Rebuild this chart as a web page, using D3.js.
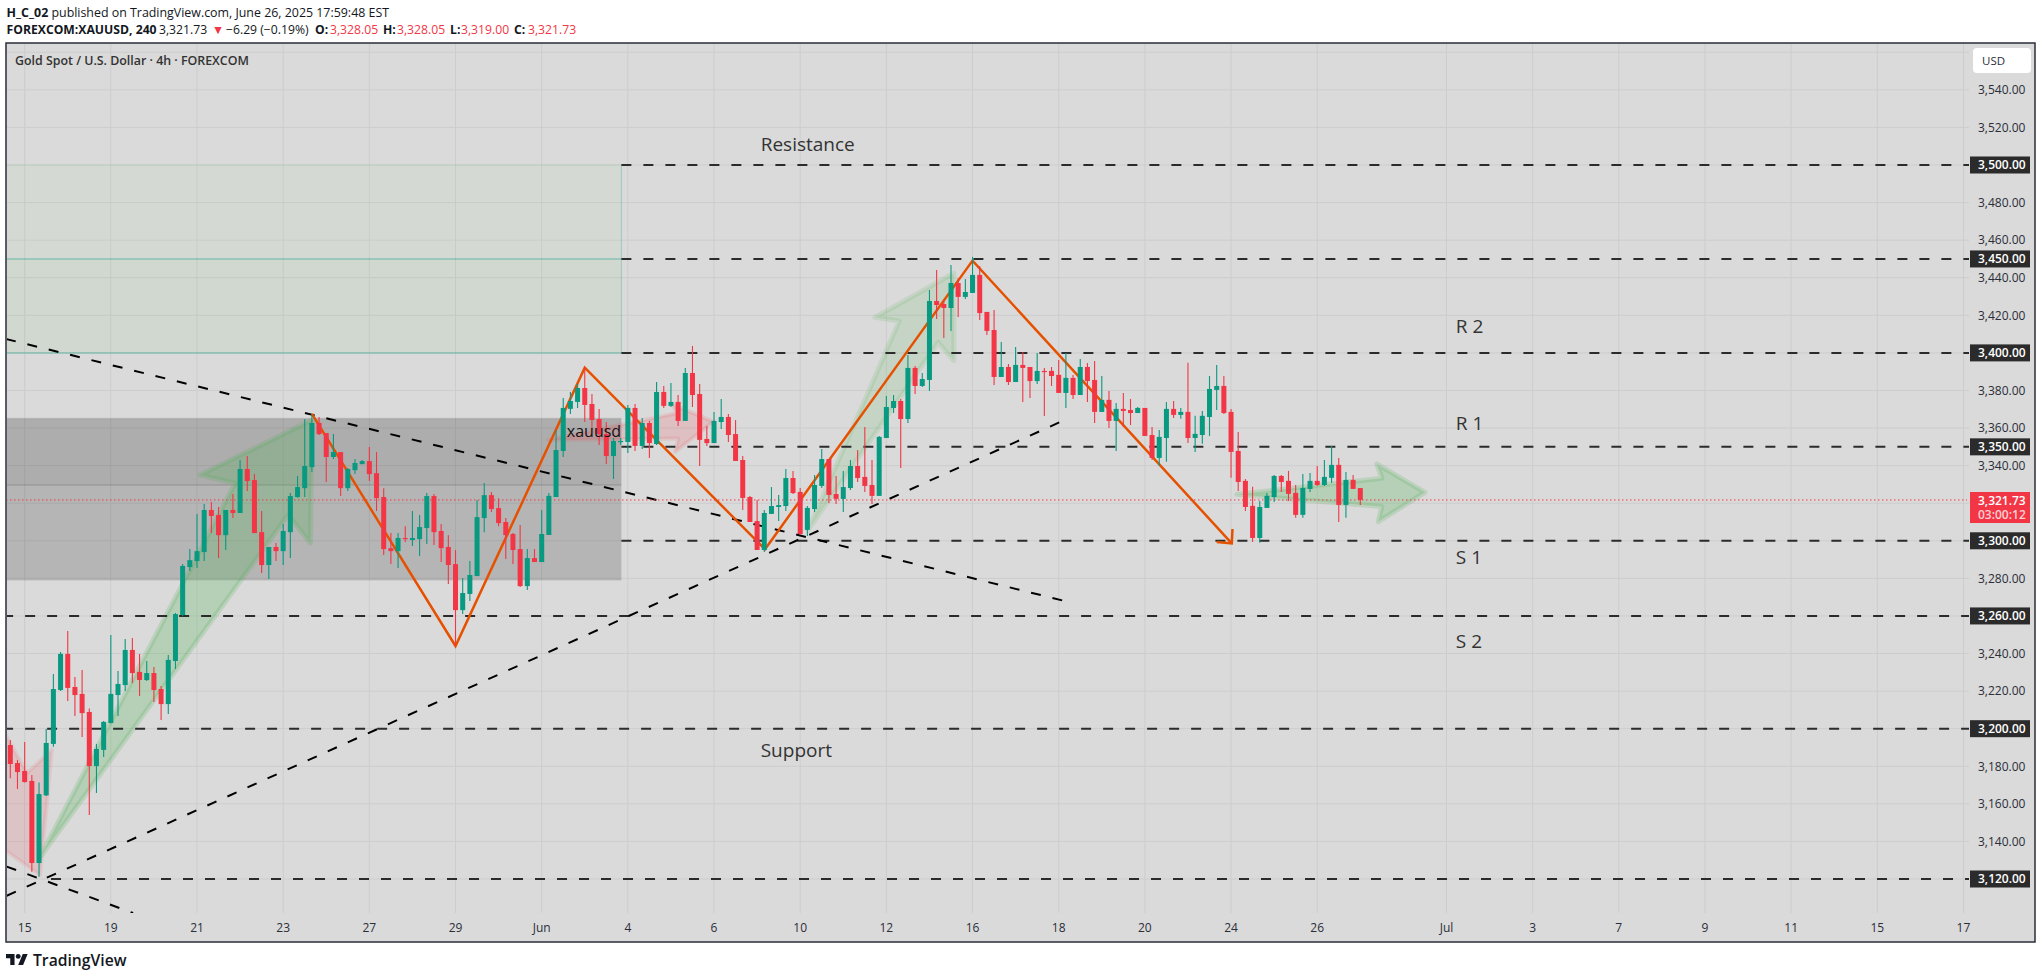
<!DOCTYPE html>
<html><head><meta charset="utf-8">
<script src="https://cdn.jsdelivr.net/npm/d3@7"></script>
<style>html,body{margin:0;padding:0;background:#fff}svg{display:block}text{font-family:"Open Sans",sans-serif}</style>
</head><body><svg id="c" width="2042" height="979"></svg>
<script>
const opens=[3191.3,3181.7,3177.5,3172.2,3128.5,3164.5,3191.9,3220.6,3239.8,3222.2,3218.5,3208.9,3180.1,3188.7,3203,3217.9,3223.2,3241.9,3230.2,3225.9,3229.6,3221.1,3213.1,3236,3260.5,3286,3289.2,3294,3316.4,3313.7,3303,3316.4,3314.8,3338.2,3332.3,3304.6,3287.1,3296.7,3294.5,3304.6,3323.3,3328,3339.2,3362.7,3357.3,3344.6,3347.2,3328,3337.6,3340.8,3342.4,3336,3323.3,3296.1,3294.5,3301.5,3300.4,3300.9,3306.8,3323.8,3305.2,3296.7,3287.6,3263.1,3271.7,3281.2,3312.1,3324.3,3317.4,3310,3303.6,3295.6,3275.9,3290.8,3288.7,3303.1,3323.3,3347.8,3370.2,3373.9,3381.3,3372.8,3364.8,3356.8,3345.1,3352.8,3352.6,3370.7,3350.5,3362.7,3351.5,3379.2,3371.8,3373.9,3363.8,3389.3,3378.1,3354.2,3352,3363.2,3365.9,3356.8,3343,3323.3,3310.5,3295.1,3314.3,3318,3318.5,3333.4,3326,3305.8,3316.9,3329.2,3343.5,3324.9,3322.3,3328.1,3339.8,3334,3329.7,3323.9,3354.7,3370.7,3374.4,3364.8,3392,3382.4,3385.6,3427.6,3426,3423.9,3437.2,3429.8,3431.9,3441.5,3421.8,3412.2,3387.2,3392.5,3384.5,3393.6,3392.5,3385,3390.4,3390.4,3388.3,3378.7,3386.7,3377.6,3392.5,3385.6,3368.6,3375,3363.8,3370.2,3369.6,3368,3370.7,3356.3,3344.1,3354.7,3370.2,3367,3368.6,3354.7,3356.3,3365.9,3380.3,3382.4,3368.6,3347.8,3331.9,3318.6,3301.5,3317.5,3323.3,3334.5,3331.9,3325.5,3313.8,3327.6,3331.9,3329.7,3333.5,3340.4,3319.1,3332.4,3328.05];
const highs=[3194,3183.3,3192.9,3175.4,3171.4,3199.8,3229.1,3240.8,3252,3227.5,3231.2,3210.8,3191.9,3204.1,3249.9,3230.7,3247.7,3248.3,3239.8,3236,3232.8,3222.7,3239.2,3261.6,3287.6,3295.6,3314.2,3319.6,3320.6,3318,3316.4,3324.9,3343,3345.1,3335.5,3315.8,3296.7,3298.8,3308.9,3325.4,3334.5,3364.8,3366.9,3365.9,3357.3,3356.8,3347.2,3338.7,3343.5,3343,3349.9,3347.2,3328,3304.1,3304.1,3307.8,3315.8,3313.7,3325.4,3324.9,3308.9,3303,3295.1,3280.2,3289.2,3321.7,3330.7,3325.9,3322.7,3312.1,3304.1,3308.4,3295.6,3295.6,3316.4,3325.5,3359,3376,3379.2,3383.5,3392.5,3378.1,3370.2,3363.2,3354.7,3354.7,3372.3,3372.8,3365.4,3363.8,3384.5,3382.4,3384,3377.6,3392,3403.7,3383.5,3361.1,3368.6,3375.5,3367.5,3364.3,3345.1,3323.9,3321.7,3316.4,3328.6,3324.4,3338.2,3337.2,3328.1,3318.5,3335,3348.9,3343.5,3334.5,3337.2,3343,3348.3,3360.6,3343,3355.8,3377.1,3377.6,3375.5,3398.9,3393,3389.3,3433.5,3444.1,3428.2,3446.8,3439.9,3439.3,3451.1,3446.3,3421.8,3422.8,3405.8,3394.1,3403.2,3400.5,3392.5,3400,3392,3392.5,3396.2,3400,3388.3,3396.8,3394.6,3395.7,3387.7,3379.7,3373.3,3378.7,3375.5,3371.2,3370.7,3360.6,3359,3373.9,3374.4,3370.7,3394.7,3366.5,3369.1,3387.7,3393.6,3387.7,3370.2,3357.9,3332.9,3328.7,3321.2,3325.5,3335,3335,3337.2,3329.7,3335.6,3336.1,3339.8,3343,3350.5,3344.1,3336.6,3335,3328.05];
const lows=[3173.6,3167.9,3171.4,3123.9,3121.2,3164.2,3190.4,3220.1,3214.7,3206.7,3195.6,3154.1,3165.8,3184.9,3202.9,3206.7,3220.1,3224.3,3217.4,3225.4,3214.2,3204.6,3207.8,3231.8,3259.9,3283.9,3285.5,3289.2,3304.1,3290.8,3295.1,3312.1,3314.8,3326.5,3304.1,3282.8,3279.6,3289.2,3287.1,3290.8,3322.9,3323.3,3336.6,3356.3,3331.3,3343.5,3323.8,3326.5,3335.5,3340.8,3331.8,3315.8,3292.4,3287.6,3285.5,3299.3,3297.2,3291.9,3298.3,3297.7,3288.7,3277,3244,3261,3267.9,3281.2,3304.6,3315.3,3307.8,3290.3,3287.6,3275.4,3273.8,3288.7,3288.7,3303.1,3323.3,3344.6,3367.5,3370.7,3363.2,3359,3351,3340.9,3332.9,3351,3346.7,3347.8,3348.9,3344.1,3351,3370.7,3371.2,3361.1,3363.8,3371.2,3339.8,3350.5,3352,3359.5,3352.6,3342.5,3316.4,3310,3295.1,3294,3314.3,3310.5,3315.9,3324.9,3303.1,3302.6,3315.3,3328.1,3320.1,3319.6,3315.3,3327,3331.3,3326,3319.6,3323.9,3354.7,3368,3338.8,3362.7,3378.1,3381.9,3379.7,3418.1,3407.9,3411.7,3419.1,3428.7,3431.9,3417.5,3409.5,3382.9,3387.2,3382.9,3384.5,3373.9,3376,3383.5,3366.4,3382.4,3378.7,3370.7,3375.5,3377.6,3373.9,3362.7,3368.6,3360,3347.8,3360.6,3361.6,3368,3355.8,3343,3339.8,3342,3365.4,3364.9,3352.1,3347.3,3351.6,3355.8,3369.6,3367.5,3333.5,3326.5,3315.9,3299.4,3298.9,3317.5,3320.7,3326,3321.2,3312.2,3312.2,3326,3329.2,3329.2,3330.8,3310,3312.2,3327.6,3319];
const closes=[3181.2,3176.9,3171.6,3128.5,3165.2,3192.4,3221.1,3239.8,3221.7,3217.9,3208.3,3180.1,3189.2,3203.6,3218.5,3223.8,3241.9,3229.6,3225.9,3229.6,3220.6,3213.1,3236.6,3261,3286.6,3289.7,3294.5,3316.4,3313.2,3303,3316.4,3314.8,3338.2,3331.8,3304.1,3287.1,3296.7,3294.5,3305.2,3323.8,3328.6,3339.8,3362.7,3356.8,3344.6,3347.2,3328,3338.2,3341.4,3342.4,3335.5,3322.7,3295.6,3294.5,3301.5,3300.9,3301.5,3307.3,3323.8,3304.6,3296.1,3287.1,3263.1,3272.2,3281.8,3312.6,3324.3,3316.9,3309.4,3303,3295.1,3275.9,3290.8,3288.7,3303.6,3323.9,3348.3,3370.7,3374.4,3381.3,3372.3,3364.3,3356.8,3345.1,3353.1,3353.1,3370.7,3350.5,3362.7,3352,3379.2,3371.8,3373.9,3363.8,3389.3,3377.6,3353.7,3352,3363.8,3365.9,3356.3,3342.5,3322.8,3310,3295.1,3314.8,3318.5,3319,3333.4,3325.4,3303.6,3317.5,3329.7,3343.5,3324.4,3322.3,3328.6,3339.8,3333.4,3329.2,3323.9,3355.3,3371.2,3374.4,3364.8,3392,3382.4,3386.1,3427.6,3425.5,3423.9,3437.2,3429.8,3432.4,3441.5,3421.2,3411.7,3387.2,3392.5,3384.5,3393.6,3392,3385,3390.4,3389.8,3387.7,3378.7,3386.7,3377.6,3392.5,3385,3368.6,3375,3363.8,3370.2,3369.1,3368,3370.7,3355.8,3344.1,3355.3,3370.2,3367,3368.6,3354.7,3356.9,3366.5,3380.8,3382.4,3368,3347.3,3331.3,3318,3301.5,3318,3323.9,3334.5,3331.3,3325,3313.8,3328.1,3331.9,3329.7,3334,3340.4,3319.1,3332.4,3327.6,3321.73];

const priceLabels=[3540,3520,3480,3460,3440,3420,3380,3360,3340,3280,3240,3220,3180,3160,3140];
const gridPrices=[3560,3540,3520,3500,3480,3460,3440,3420,3400,3380,3360,3340,3320,3300,3280,3260,3240,3220,3200,3180,3160,3140,3120];
const levelPrices=[3500,3450,3400,3350,3300,3260,3200,3120];
const levelStartBars=[86.1,86.1,86.1,86.1,86.1,0,0,6.67];
const lastPrice=3321.73, countdown="03:00:12";
const dateLabels=["15","19","21","23","27","29","Jun","4","6","10","12","16","18","20","24","26","Jul","3","7","9","11","15","17"];
const dateBars=[3,15,27,39,51,63,75,87,99,111,123,135,147,159,171,183,201,213,225,237,249,261,273];
const zigzag=[[43,3367.5],[63,3244],[81,3392.1],[106.1,3295.5],[135,3449.1],[171.1,3298.6]];
const zigzagHeadA=[[169,3299.3],[171.1,3298.6],[171.2,3306.3]];
const trendA=[[0.4,3407.4],[147.9,3267.9]];
const trendB=[[0.5,3111.1],[147.2,3363.2]];
const trendC=[[0.5,3126.6],[18.1,3101.9]];
const arrowGreenBig=[[5.07,3131.2],[32.3,3330.6],[27.4,3335],[43,3364.3],[42.8,3298.7],[39.7,3313.7]];
const arrowGreenSmall=[[112.1,3305.7],[124.8,3417],[121.4,3418.9],[132.4,3442.4],[132.4,3395.9],[130.2,3405.6]];
const arrowGreenFlat=[[171.8,3324.7],[192,3333.3],[191.3,3340.9],[198,3325.8],[191.5,3310.2],[192,3318.2]];
const arrowPinkDown=[[-1.8,3211],[3.33,3176.4],[6.8,3188.7],[5.14,3122.1],[-1.13,3139.2]];
const arrowPinkFlat=[[75.9,3353.6],[93.8,3367.9],[93.3,3372.3],[98.9,3363.4],[93.6,3347.4],[94,3354.5]];
const noteLabels=["Resistance","Support","R 2","R 1","S 1","S 2"];
const noteBars=[105.5,105.5,202.3,202.3,202.3,202.3];
const notePrices=[3507.5,3185,3410.5,3358.7,3287.7,3242.9];

const W=2042,H=979,L=6,T=43,R=2035,B=942,PB=913,PR=1969;
const x=d3.scaleLinear().domain([1,189]).range([10.3,1360.3]);
const y=d3.scaleLinear().domain([3500,3120]).range([165,879]);
const svg=d3.select("#c");
const dateFmt=d3.format(",.2f");
const green="#089981",red="#f23645",ink="#2a2e39";
const defs=svg.append("defs");
defs.append("clipPath").attr("id","pane").append("rect").attr("x",L+1).attr("y",T+1).attr("width",PR-L-1).attr("height",PB-T-1);

svg.append("rect").attr("x",L).attr("y",T).attr("width",R-L).attr("height",B-T).attr("fill","#dadada").attr("stroke",ink).attr("stroke-width",1.5);

const g=svg.append("g").attr("clip-path","url(#pane)");
g.selectAll(".gx").data(dateBars).join("line").attr("x1",d=>x(d)).attr("x2",d=>x(d)).attr("y1",T).attr("y2",PB).attr("stroke","#cdcdcd");
g.selectAll(".gy").data(gridPrices).join("line").attr("x1",L).attr("x2",PR).attr("y1",d=>y(d)).attr("y2",d=>y(d)).attr("stroke","#cdcdcd");

const zoneRight=x(86.1);
function zone(top,bot,fill){g.append("rect").attr("x",L).attr("width",zoneRight-L).attr("y",y(top)).attr("height",y(bot)-y(top)).attr("fill",fill);}
zone(3500,3450,"rgba(118,218,118,0.05)");
zone(3450,3400,"rgba(68,185,34,0.06)");
zone(3365.2,3329.7,"rgba(0,0,0,0.205)");
zone(3329.7,3279,"rgba(0,0,0,0.17)");
function rule(p,col,w){g.append("line").attr("x1",L).attr("x2",zoneRight).attr("y1",y(p)).attr("y2",y(p)).attr("stroke",col).attr("stroke-width",w);}
rule(3500,"rgba(76,175,80,0.15)",1);
rule(3450,"rgba(8,153,129,0.28)",2);
rule(3400,"rgba(8,153,129,0.28)",2);
rule(3329.7,"rgba(0,0,0,0.09)",2);
rule(3365.2,"rgba(0,0,0,0.03)",2);
rule(3279,"rgba(0,0,0,0.03)",1);
g.append("line").attr("x1",zoneRight).attr("x2",zoneRight).attr("y1",y(3500)).attr("y2",y(3400)).attr("stroke","rgba(8,153,129,0.28)");

const polyLine=d3.line().x(d=>x(d[0])).y(d=>y(d[1]));
function arrow(pts,fill,stroke,w){g.append("path").attr("d",polyLine(pts)+"Z").attr("fill",fill).attr("stroke",stroke).attr("stroke-width",w).attr("stroke-linejoin","round");}
arrow(arrowPinkDown,"rgba(242,54,69,0.13)","rgba(242,54,69,0.1)",4);
arrow(arrowGreenBig,"rgba(76,175,80,0.25)","rgba(76,175,80,0.2)",5);
arrow(arrowGreenSmall,"rgba(76,175,80,0.14)","rgba(76,175,80,0.14)",5);
arrow(arrowGreenFlat,"rgba(76,175,80,0.25)","rgba(76,175,80,0.2)",5);
arrow(arrowPinkFlat,"rgba(242,54,69,0.16)","rgba(242,54,69,0.12)",4);

levelPrices.forEach((p,i)=>{g.append("line").attr("x1",x(levelStartBars[i])).attr("x2",PR).attr("y1",y(p)).attr("y2",y(p)).attr("stroke","#2b2b2b").attr("stroke-width",2).attr("stroke-dasharray","10 12");});

[trendA,trendB,trendC].forEach(t=>{g.append("path").attr("d",polyLine(t)).attr("fill","none").attr("stroke","#000").attr("stroke-width",2).attr("stroke-dasharray","10 12");});

g.selectAll(".note").data(noteLabels).join("text").attr("x",(d,i)=>x(noteBars[i])).attr("y",(d,i)=>y(notePrices[i])).attr("font-size",19).attr("fill","#333").text(d=>d);

g.append("path").attr("d",polyLine(zigzag)).attr("fill","none").attr("stroke","#e65100").attr("stroke-width",2.5).attr("stroke-linejoin","miter");
g.append("path").attr("d",polyLine(zigzagHeadA)).attr("fill","none").attr("stroke","#e65100").attr("stroke-width",2.5);

g.append("line").attr("x1",L).attr("x2",PR-2).attr("y1",y(lastPrice)).attr("y2",y(lastPrice)).attr("stroke",red).attr("stroke-width",1).attr("stroke-dasharray","1.5 2.5");

const bars=opens.map((o,i)=>({i:i+1,o,h:highs[i],l:lows[i],c:closes[i]}));
const cg=g.append("g");
cg.selectAll(".w").data(bars).join("line").attr("x1",d=>x(d.i)).attr("x2",d=>x(d.i)).attr("y1",d=>y(d.h)).attr("y2",d=>y(d.l)).attr("stroke",d=>d.c>=d.o?green:red).attr("stroke-width",1.1);
cg.selectAll(".b").data(bars).join("rect").attr("x",d=>x(d.i)-2.5).attr("width",5).attr("y",d=>y(Math.max(d.o,d.c))).attr("height",d=>Math.max(1.2,y(Math.min(d.o,d.c))-y(Math.max(d.o,d.c)))).attr("fill",d=>d.c>=d.o?green:red);

g.append("text").attr("x",x(78.5)).attr("y",y(3355)).attr("font-size",16).attr("fill","#111").text("xauusd");

const ax=svg.append("g");
ax.selectAll(".pl").data(priceLabels).join("text").attr("x",1978).attr("y",d=>y(d)+4.3).attr("font-size",12).attr("fill",ink).text(dateFmt);
levelPrices.forEach(p=>{
  ax.append("rect").attr("x",1970).attr("y",y(p)-8.5).attr("width",60).attr("height",17).attr("fill","#2b2b2b");
  ax.append("text").attr("x",1978).attr("y",y(p)+4.3).attr("font-size",12).attr("fill","#fff").attr("font-weight",600).text(dateFmt(p));
});
ax.append("rect").attr("x",1970).attr("y",492).attr("width",60).attr("height",31).attr("fill",red);
ax.append("text").attr("x",1978).attr("y",y(lastPrice)+5).attr("font-size",12).attr("fill","#fff").attr("font-weight",600).text(dateFmt(lastPrice));
ax.append("text").attr("x",1978).attr("y",y(lastPrice)+19).attr("font-size",12).attr("fill","#ffd0d4").attr("font-weight",600).text(countdown);
ax.append("rect").attr("x",1973).attr("y",48).attr("width",58).attr("height",25).attr("rx",4).attr("fill","#fff");
ax.append("text").attr("x",1982).attr("y",65).attr("font-size",11.5).attr("fill",ink).text("USD");

svg.selectAll(".dl").data(dateLabels).join("text").attr("x",(d,i)=>x(dateBars[i])).attr("y",932).attr("text-anchor","middle").attr("font-size",12).attr("fill",ink).text(d=>d);

const h1=svg.append("text").attr("x",6.5).attr("y",17).attr("font-size",12.4).attr("fill","#131722");
h1.append("tspan").attr("font-weight",700).text("H_C_02");
h1.append("tspan").text(" published on TradingView.com, June 26, 2025 17:59:48 EST");
const h2=svg.append("g").attr("font-size",12.2).attr("fill","#131722");
function seg(xp,t,o={}){h2.append("text").attr("x",xp).attr("y",34).attr("font-weight",o.b?700:400).attr("fill",o.c||"#131722").text(t);}
seg(6.5,"FOREXCOM:XAUUSD, 240",{b:1});
seg(159,"3,321.73");
seg(212,"▼",{c:red});
seg(226,"−6.29 (−0.19%)");
seg(315,"O:",{b:1});seg(330,"3,328.05",{c:red});
seg(383,"H:",{b:1});seg(397,"3,328.05",{c:red});
seg(450,"L:",{b:1});seg(461,"3,319.00",{c:red});
seg(514,"C:",{b:1});seg(528,"3,321.73",{c:red});
svg.append("text").attr("x",15).attr("y",64.5).attr("font-size",12.4).attr("font-weight",600).attr("fill","#333").text("Gold Spot / U.S. Dollar · 4h · FOREXCOM");

const logo=svg.append("g").attr("transform","translate(6,951.5) scale(0.61)").attr("fill","#131722");
logo.append("path").attr("d","M14 22H7V11H0V4h14v18zM28 22h-8l7.5-18h8L28 22z");
logo.append("circle").attr("cx",20).attr("cy",8).attr("r",4);
svg.append("text").attr("x",33).attr("y",966).attr("font-size",15.7).attr("font-weight",600).attr("fill","#131722").text("TradingView");
</script></body></html>
